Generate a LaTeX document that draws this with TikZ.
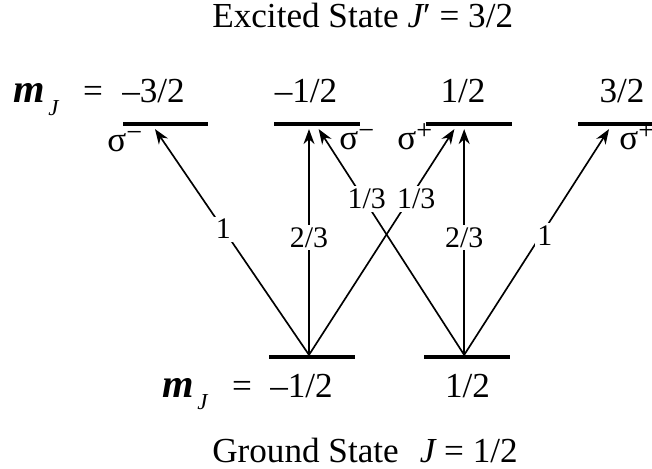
\documentclass[tikz,border=0pt]{standalone}
\usepackage{fontspec}
\setmainfont{Liberation Serif}
\usetikzlibrary{positioning,arrows.meta,calc}
\tikzset{
  level/.style={rectangle, fill=black, inner sep=0pt, minimum height=2pt,
                minimum width=1.72cm},
  trans/.style={-{Stealth[length=3mm,width=2.2mm]}, line width=0.95pt},
  frac/.style={anchor=base, inner sep=0pt, font=\fontsize{20}{24}\selectfont},
  title/.style={anchor=base west, inner sep=0pt, font=\fontsize{20}{24}\selectfont},
  weight/.style={fill=white, inner sep=1.5pt, font=\fontsize{17}{20}\selectfont},
  pol/.style={anchor=base west, inner sep=0pt, font=\fontsize{20}{22}\selectfont}
}
\newcommand{\mjlabel}{{\fontsize{23}{26}\selectfont\bfseries\itshape m}\hspace{2pt}%
  \raisebox{-7pt}{\fontsize{13}{15}\selectfont\itshape J}}
\newcommand{\polsig}[1]{σ\raisebox{6pt}{\fontsize{16}{16}\selectfont #1}}

\begin{document}
\begin{tikzpicture}[x=0.02cm, y=-0.02cm, node distance=1.3cm]
\useasboundingbox (0,0) rectangle (652,469);

\node[level] (e1) at (165.5,124) {};
\node[level, right=of e1] (e2) {};
\node[level, right=of e2] (e3) {};
\node[level, right=of e3, minimum width=1.54cm] (e4) {};

\node[level] (g1) at (312,357) {};
\node[level, right=1.36cm of g1] (g2) {};

\node[title] (exc) at (212,28) {Excited State {\itshape J}′ = 3/2};
\node[title] (gnd) at (212,462) {Ground State\hspace{0.6em}{\itshape J} = 1/2};

\node[pol] (mjtop) at (13,103) {\mjlabel\hspace{14pt}=};
\node[frac] (f1) at (153.5,103) {–3/2};
\node[frac] (f2) at (306,103) {–1/2};
\node[frac] (f3) at (463,103) {1/2};
\node[frac] (f4) at (622,103) {3/2};

\node[pol] (mjbot) at (162,397) {\mjlabel\hspace{14pt}=};
\node[frac] (h1) at (301.5,397) {–1/2};
\node[frac] (h2) at (467.5,397) {1/2};

\node[pol] (s1) at (107,152) {\polsig{−}};
\node[pol] (s2) at (339,150) {\polsig{−}};
\node[pol] (s3) at (397,150) {\polsig{+}};
\node[pol] (s4) at (619,150) {\polsig{+}};

\coordinate (a1) at ($(g1.north)+(-3,0)$);
\coordinate (a2) at ($(g2.north)+(-2.5,0)$);
\coordinate (t1) at ($(e1.south)+(-10.5,3)$);
\coordinate (t2v) at ($(a1 |- e2.south)+(0,3)$);
\coordinate (t2d) at ($(e2.south)+(1.5,3)$);
\coordinate (t3d) at ($(e3.south)+(-14.5,3)$);
\coordinate (t3v) at ($(a2 |- e3.south)+(0,3)$);
\coordinate (t4) at ($(e4.south)+(-7,3)$);

\draw[trans] (a1) -- node[weight, pos=0.557] {1} (t1);
\draw[trans] (a1) -- node[weight, pos=0.52] {2/3} (t2v);
\draw[trans] (a1) -- node[weight, pos=0.69, xshift=0.14cm] {1/3} (t3d);
\draw[trans] (a2) -- node[weight, pos=0.69, xshift=0.06cm] {1/3} (t2d);
\draw[trans] (a2) -- node[weight, pos=0.52] {2/3} (t3v);
\draw[trans] (a2) -- node[weight, pos=0.53, xshift=0.08cm] {1} (t4);
\end{tikzpicture}
\end{document}
